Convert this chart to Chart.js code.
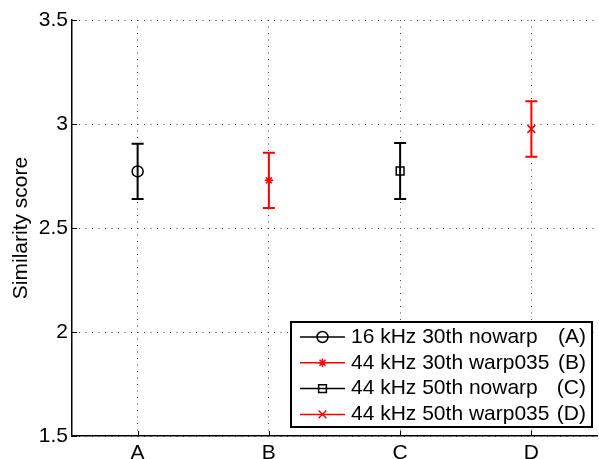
<!DOCTYPE html>
<html lang="en">
<head>
    <meta charset="UTF-8">
    <title>Similarity score</title>
    <script src="https://cdn.jsdelivr.net/npm/chart.js"></script>
    <style>
        html, body { margin: 0; padding: 0; background: #fff; }
        #wrap { width: 599px; height: 459px; }
    </style>
</head>
<body>
    <div id="wrap"><canvas id="scoreChart" width="599" height="459"></canvas></div>
    <script>
        // values
        const categories = ['A', 'B', 'C', 'D'];
        const seriesNames = ['16 kHz 30th nowarp', '44 kHz 30th warp035', '44 kHz 50th nowarp', '44 kHz 50th warp035'];
        const seriesTags = ['(A)', '(B)', '(C)', '(D)'];
        const means = [2.772, 2.729, 2.774, 2.976];
        const errors = [0.133, 0.133, 0.135, 0.133];
        const yTicks = [1.5, 2, 2.5, 3, 3.5];

        const FONT = "'Liberation Sans', Arial, Helvetica, sans-serif";
        const colors = ['#000000', '#ff0000', '#000000', '#ff0000'];
        const markers = ['circle', 'star', 'rect', 'crossRot'];
        const markerSize = { circle: 5.5, star: 4.2, rect: 5.5, crossRot: 5.5 };

        // draw one marker (used by the legend)
        function drawMarker(ctx, style, x, y, r) {
            ctx.beginPath();
            if (style === 'circle') {
                ctx.arc(x, y, r, 0, Math.PI * 2);
            } else if (style === 'rect') {
                const s = r * Math.SQRT1_2;
                ctx.rect(x - s, y - s, s * 2, s * 2);
            } else if (style === 'star') {
                ctx.moveTo(x - r, y); ctx.lineTo(x + r, y);
                ctx.moveTo(x, y - r); ctx.lineTo(x, y + r);
                const d = r * Math.SQRT1_2;
                ctx.moveTo(x - d, y - d); ctx.lineTo(x + d, y + d);
                ctx.moveTo(x - d, y + d); ctx.lineTo(x + d, y - d);
            } else if (style === 'crossRot') {
                const d = r * Math.SQRT1_2;
                ctx.moveTo(x - d, y - d); ctx.lineTo(x + d, y + d);
                ctx.moveTo(x - d, y + d); ctx.lineTo(x + d, y - d);
            }
            ctx.stroke();
        }

        const errorBars = {
            id: 'errorBars',
            beforeDatasetsDraw(chart) {
                const ctx = chart.ctx;
                const xs = chart.scales.x, ys = chart.scales.y;
                ctx.save();
                chart.data.datasets.forEach((ds, i) => {
                    ds.data.forEach(p => {
                        const x = xs.getPixelForValue(p.x);
                        const top = ys.getPixelForValue(p.y + p.err);
                        const bot = ys.getPixelForValue(p.y - p.err);
                        ctx.strokeStyle = ds.borderColor;
                        ctx.lineWidth = 2;
                        ctx.beginPath();
                        ctx.moveTo(x, top); ctx.lineTo(x, bot);
                        ctx.moveTo(x - 6, top); ctx.lineTo(x + 6, top);
                        ctx.moveTo(x - 6, bot); ctx.lineTo(x + 6, bot);
                        ctx.stroke();
                    });
                });
                ctx.restore();
            }
        };

        // inward tick marks, matlab style
        const innerTicks = {
            id: 'innerTicks',
            afterDraw(chart) {
                const ctx = chart.ctx;
                const xs = chart.scales.x, ys = chart.scales.y;
                const area = chart.chartArea;
                ctx.save();
                ctx.strokeStyle = '#000';
                ctx.lineWidth = 1;
                ctx.beginPath();
                xs.ticks.forEach(t => {
                    const x = Math.round(xs.getPixelForValue(t.value)) + 0.5;
                    ctx.moveTo(x, area.bottom);
                    ctx.lineTo(x, area.bottom - 5);
                });
                ys.ticks.forEach(t => {
                    const y = Math.round(ys.getPixelForValue(t.value)) + 0.5;
                    ctx.moveTo(area.left, y);
                    ctx.lineTo(area.left + 5, y);
                });
                ctx.stroke();
                ctx.restore();
            }
        };

        const boxLegend = {
            id: 'boxLegend',
            afterDraw(chart) {
                const ctx = chart.ctx;
                const area = chart.chartArea;
                const right = area.right - 5, bottom = area.bottom - 9;
                const left = right - 301, top = bottom - 105;
                ctx.save();
                ctx.fillStyle = '#fff';
                ctx.fillRect(left, top, right - left, bottom - top);
                ctx.strokeStyle = '#000';
                ctx.lineWidth = 2;
                ctx.strokeRect(left, top, right - left, bottom - top);
                ctx.font = '21px ' + FONT;
                ctx.textBaseline = 'middle';
                chart.data.datasets.forEach((ds, i) => {
                    const y = top + 15 + i * 25.8;
                    ctx.strokeStyle = ds.borderColor;
                    ctx.lineWidth = 1.5;
                    ctx.beginPath();
                    ctx.moveTo(left + 9, y); ctx.lineTo(left + 54, y);
                    ctx.stroke();
                    drawMarker(ctx, markers[i], left + 31.5, y, markerSize[markers[i]]);
                    ctx.fillStyle = '#000';
                    ctx.textAlign = 'left';
                    ctx.fillText(seriesNames[i], left + 60, y);
                    ctx.textAlign = 'right';
                    ctx.fillText(seriesTags[i], right - 6, y);
                });
                ctx.restore();
            }
        };

        const datasets = seriesNames.map((name, i) => ({
            label: name,
            data: [{ x: i + 1, y: means[i], err: errors[i] }],
            borderColor: colors[i],
            backgroundColor: 'rgba(0,0,0,0)',
            pointStyle: markers[i],
            pointRadius: markerSize[markers[i]],
            pointBorderWidth: 1.5,
            showLine: false
        }));

        new Chart(document.getElementById('scoreChart'), {
            type: 'scatter',
            data: { datasets: datasets },
            options: {
                responsive: false,
                animation: false,
                layout: { autoPadding: false, padding: { top: 20, right: 2, left: 0, bottom: 0 } },
                plugins: { legend: { display: false }, tooltip: { enabled: false } },
                scales: {
                    x: {
                        type: 'linear',
                        min: 0.5,
                        max: 4.5,
                        afterBuildTicks(scale) {
                            scale.ticks = categories.map((c, i) => ({ value: i + 1 }));
                        },
                        afterFit(scale) {
                            scale.height = 23;
                        },
                        ticks: {
                            color: '#000',
                            padding: 5,
                            font: { family: FONT, size: 21 },
                            callback: v => categories[v - 1]
                        },
                        grid: { color: 'rgba(0,0,0,0.75)', lineWidth: 1, drawTicks: false },
                        border: { color: '#000', width: 1.5, dash: [1, 5.5] }
                    },
                    y: {
                        min: 1.5,
                        max: 3.5,
                        afterBuildTicks(scale) {
                            scale.ticks = yTicks.map(v => ({ value: v }));
                        },
                        afterFit(scale) {
                            scale.width = 72;
                        },
                        ticks: {
                            color: '#000',
                            padding: 4,
                            font: { family: FONT, size: 21 },
                            callback: v => String(v)
                        },
                        grid: { color: 'rgba(0,0,0,0.75)', lineWidth: 1, drawTicks: false },
                        border: { color: '#000', width: 1.5, dash: [1, 5.5] },
                        title: {
                            display: true,
                            text: 'Similarity score',
                            color: '#000',
                            font: { family: FONT, size: 21 },
                            padding: { top: 9, bottom: 0 }
                        }
                    }
                }
            },
            plugins: [errorBars, innerTicks, boxLegend]
        });
    </script>
</body>
</html>
